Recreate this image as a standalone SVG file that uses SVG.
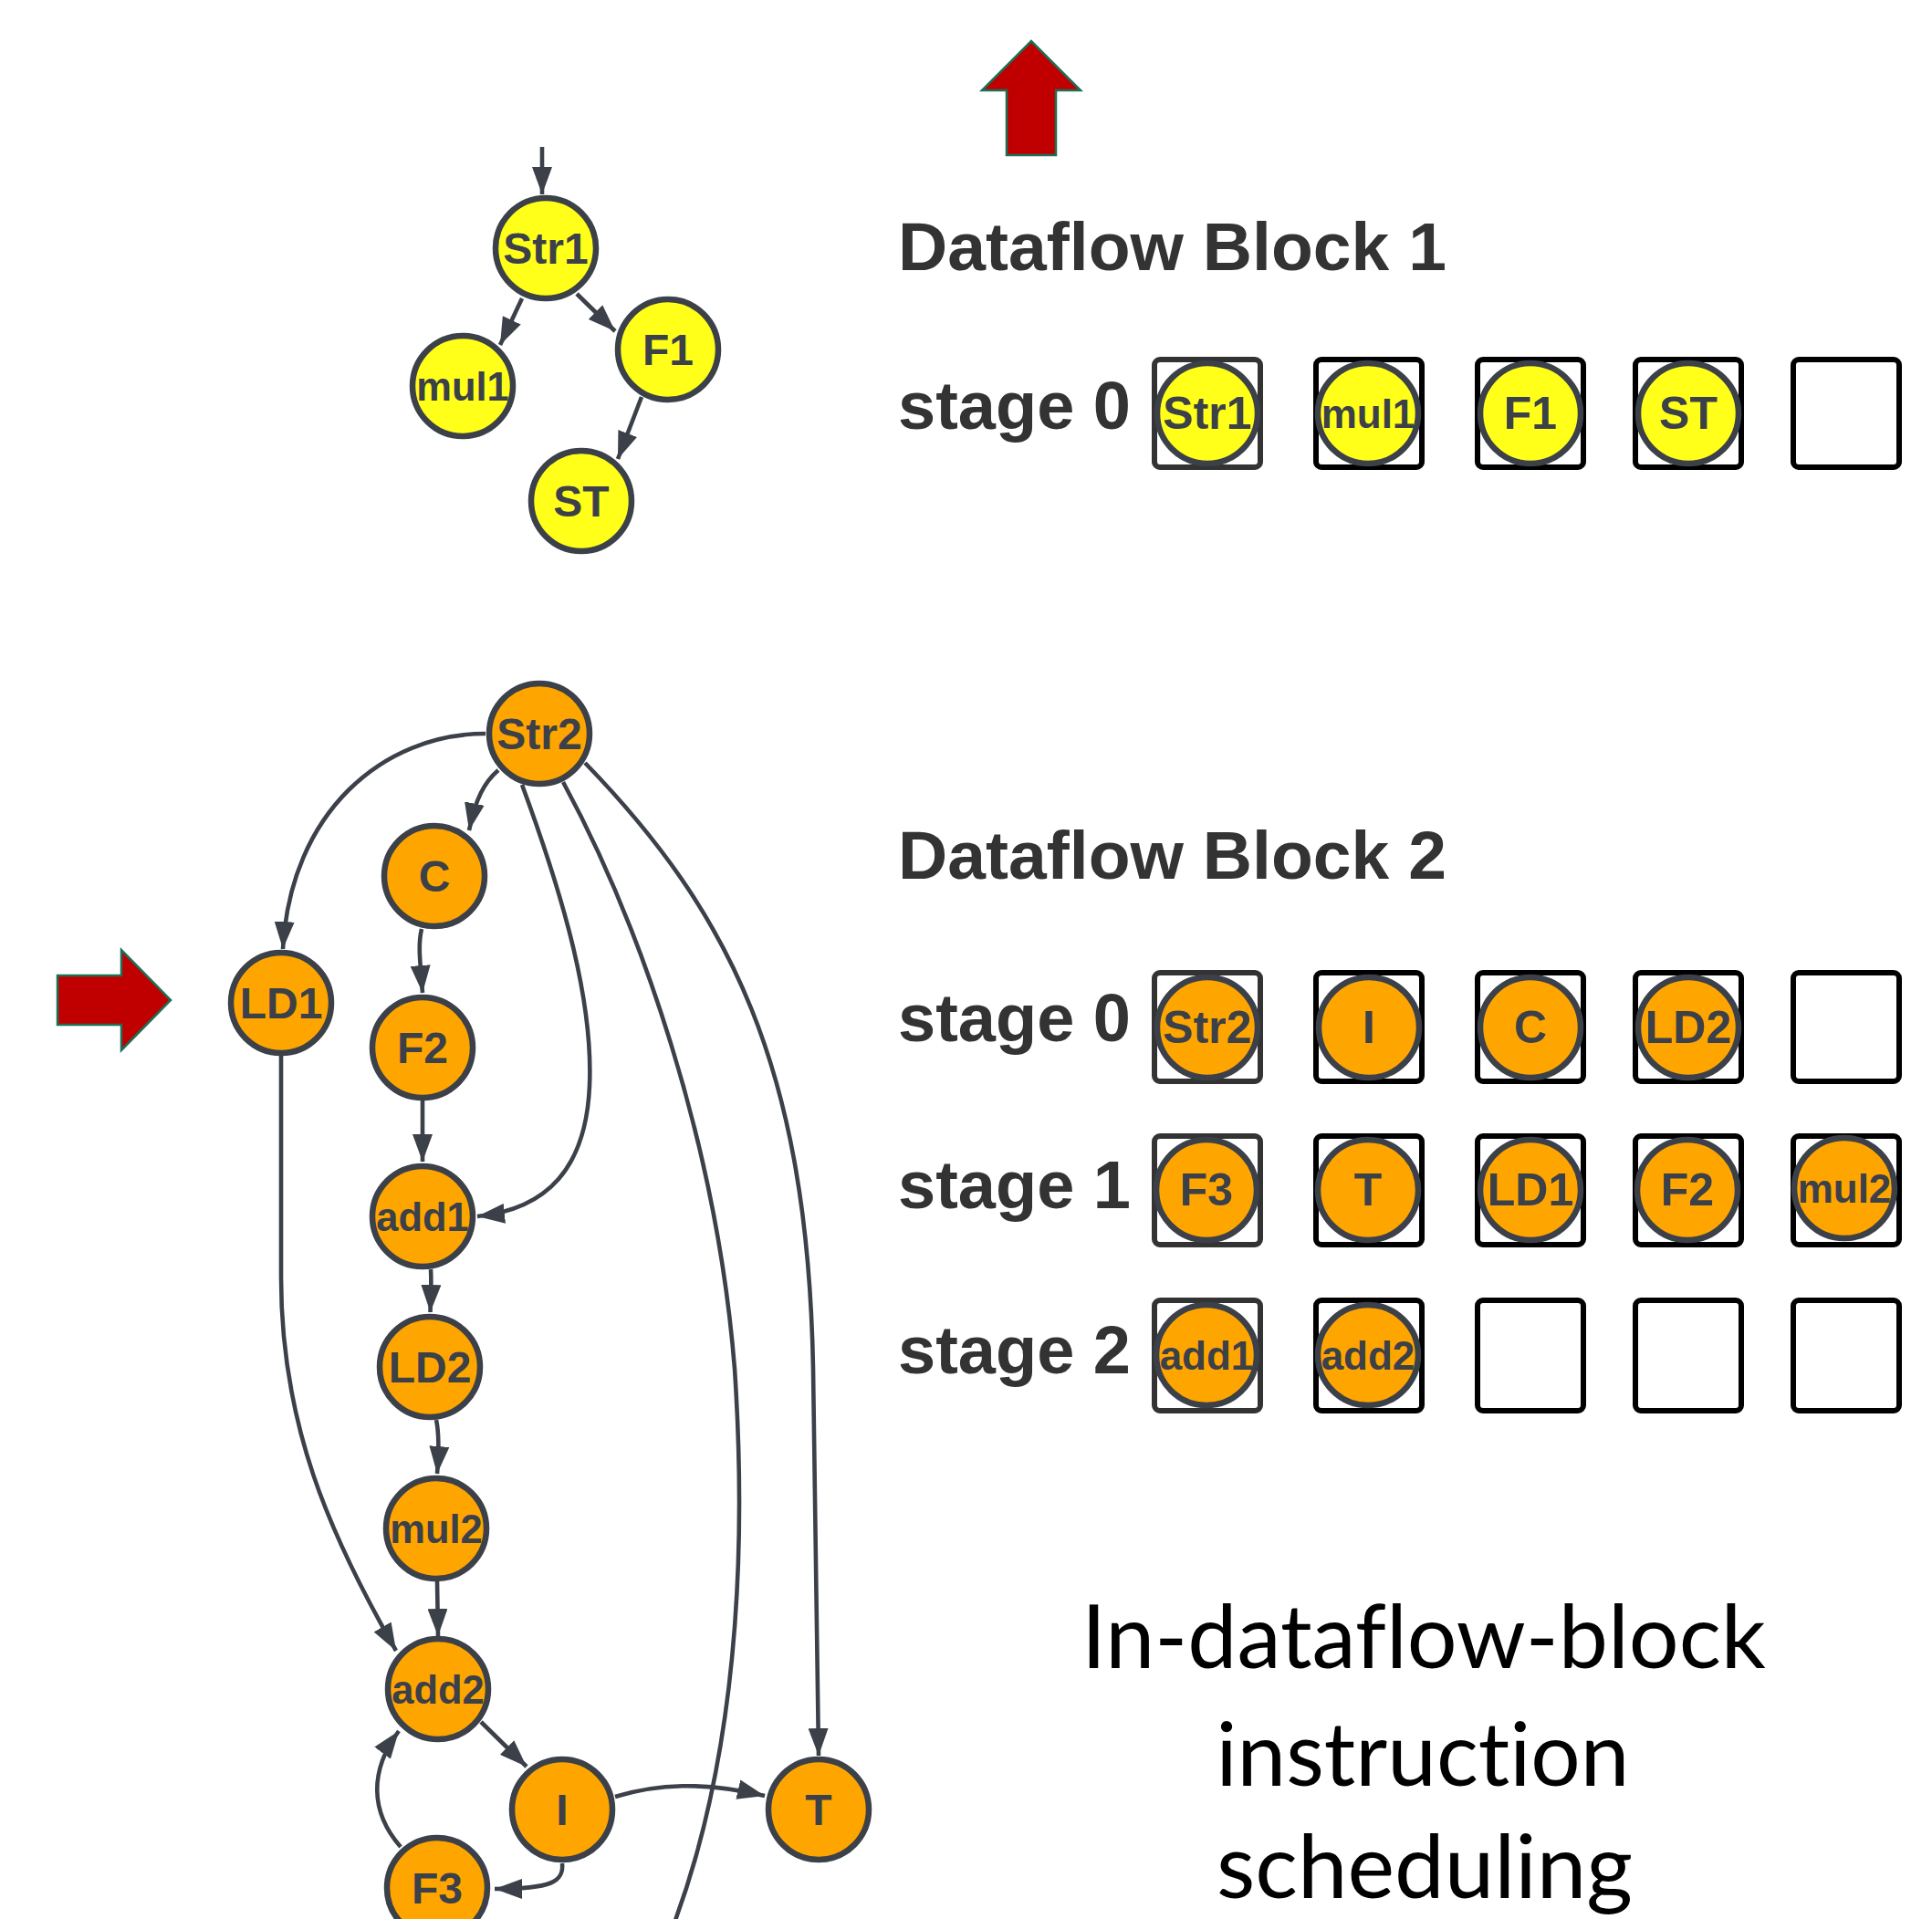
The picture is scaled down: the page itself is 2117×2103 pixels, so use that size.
<svg xmlns="http://www.w3.org/2000/svg" width="2117" height="2103" viewBox="0 0 2117 2103">
<style>
.bg{fill:#ffffff}
.ny{fill:#FFFF1A;stroke:#3b4049;stroke-width:6.5}
.no{fill:#FFA500;stroke:#3b4049;stroke-width:6.5}
.nt{font-family:"Liberation Sans",Arial,sans-serif;font-weight:bold;fill:#3b4049;text-anchor:middle}
.big{font-size:48px}
.sm{font-size:43.5px}
.bt{font-size:50px}
.bts{font-size:44px}
.hd{font-family:"Liberation Sans",Arial,sans-serif;font-weight:bold;font-size:74px;fill:#333333}
.box{fill:none;stroke:#000000;stroke-width:6}
.box1{fill:none;stroke:#333333;stroke-width:6}
.e{fill:none;stroke:#3b4049;stroke-width:4.6;marker-end:url(#ah)}
.red{fill:#C00000;stroke:#1d6f56;stroke-width:2.5}
.cap{font-family:Lato,"Open Sans",sans-serif;font-size:96px;fill:#000000;text-anchor:middle;font-variant-ligatures:none}
</style>
<defs>
<marker id="ah" viewBox="0 0 30 22" refX="30" refY="11" markerWidth="30" markerHeight="22" markerUnits="userSpaceOnUse" orient="auto">
<path d="M0,0 L30,11 L0,22 z" fill="#3b4049"/>
</marker>
</defs>
<rect class="bg" x="0" y="0" width="2117" height="2103"/>

<g id="arrow-up"><polygon class="red" points="1103,170 1103,99 1076,99 1130,45 1184,99 1157,99 1157,170"/></g>
<g id="arrow-right"><polygon class="red" points="63,1069 133,1069 133,1041 187,1096 133,1151 133,1123 63,1123"/></g>

<g id="connectors">
<path class="e" d="M594,161 L594,213"/>
<path class="e" d="M572,327 L548,378"/>
<path class="e" d="M632,322 L674,363"/>
<path class="e" d="M703,435 L677,503"/>

<path class="e" d="M532,804 C420,804 318,890 310,1040"/>
<path class="e" d="M546,844 C531,857 521,875 514,910"/>
<path class="e" d="M572,860 C620,990 650,1100 646,1190 C642,1280 600,1325 523,1333"/>
<path class="e" d="M617,857 C700,1010 785,1250 805,1500 C815,1650 818,1900 736,2115" style="marker-end:none"/>
<path class="e" d="M641,836 C800,1000 885,1170 891,1500 L897,1924"/>
<path class="e" d="M462,1018 C458,1035 460,1050 463,1088"/>
<path class="e" d="M463,1206 L463,1273"/>
<path class="e" d="M472,1391 C473,1405 472,1420 471.5,1438"/>
<path class="e" d="M478,1556 C481,1570 481,1590 479,1615"/>
<path class="e" d="M479,1733 L480,1793"/>
<path class="e" d="M308,1157 L308,1400 C308,1560 360,1680 434,1809"/>
<path class="e" d="M527,1887 L577,1936"/>
<path class="e" d="M674,1969 C720,1955 770,1952 838,1968"/>
<path class="e" d="M616,2042 C618,2062 605,2070 542,2070"/>
<path class="e" d="M439,2024 C405,1985 405,1940 437,1897"/>
</g>

<g id="n-str1"><circle class="ny" cx="598" cy="272" r="55"/><text class="nt big" x="598" y="289">Str1</text></g>
<g id="n-mul1"><circle class="ny" cx="507" cy="423" r="55"/><text class="nt sm" x="507" y="439">mul1</text></g>
<g id="n-f1"><circle class="ny" cx="732" cy="383" r="55"/><text class="nt big" x="732" y="400">F1</text></g>
<g id="n-st"><circle class="ny" cx="637" cy="549" r="55"/><text class="nt big" x="637" y="566">ST</text></g>

<g id="n-str2"><circle class="no" cx="591" cy="804" r="55"/><text class="nt big" x="591" y="821">Str2</text></g>
<g id="n-c"><circle class="no" cx="476" cy="960" r="55"/><text class="nt big" x="476" y="977">C</text></g>
<g id="n-ld1"><circle class="no" cx="308" cy="1099" r="55"/><text class="nt big" x="308" y="1116">LD1</text></g>
<g id="n-f2"><circle class="no" cx="463" cy="1148" r="55"/><text class="nt big" x="463" y="1165">F2</text></g>
<g id="n-add1"><circle class="no" cx="463" cy="1333" r="55"/><text class="nt sm" x="463" y="1349">add1</text></g>
<g id="n-ld2"><circle class="no" cx="471" cy="1498" r="55"/><text class="nt big" x="471" y="1515">LD2</text></g>
<g id="n-mul2"><circle class="no" cx="478" cy="1675" r="55"/><text class="nt sm" x="478" y="1691">mul2</text></g>
<g id="n-add2"><circle class="no" cx="480" cy="1851" r="55"/><text class="nt sm" x="480" y="1867">add2</text></g>
<g id="n-i"><circle class="no" cx="616" cy="1983" r="55"/><text class="nt big" x="616" y="2000">I</text></g>
<g id="n-t"><circle class="no" cx="897" cy="1983" r="55"/><text class="nt big" x="897" y="2000">T</text></g>
<g id="n-f3"><circle class="no" cx="479" cy="2069" r="55"/><text class="nt big" x="479" y="2086">F3</text></g>

<g id="block1">
<text class="hd" x="984" y="296" textLength="601" lengthAdjust="spacingAndGlyphs">Dataflow Block 1</text>
<text class="hd" x="984" y="470">stage 0</text>
<g id="b1-s0-0"><rect class="box1" x="1265" y="394" width="116" height="118" rx="6"/><circle class="ny" cx="1323" cy="453" r="55"/><text class="nt bt" x="1323" y="470">Str1</text></g>
<g id="b1-s0-1"><rect class="box" x="1442" y="394" width="116" height="118" rx="6"/><circle class="ny" cx="1499" cy="453" r="55"/><text class="nt bts" x="1499" y="469">mul1</text></g>
<g id="b1-s0-2"><rect class="box" x="1619" y="394" width="116" height="118" rx="6"/><circle class="ny" cx="1677" cy="453" r="55"/><text class="nt bt" x="1677" y="470">F1</text></g>
<g id="b1-s0-3"><rect class="box" x="1792" y="394" width="116" height="118" rx="6"/><circle class="ny" cx="1850" cy="453" r="55"/><text class="nt bt" x="1850" y="470">ST</text></g>
<g id="b1-s0-4"><rect class="box" x="1965" y="394" width="116" height="118" rx="6"/></g>
</g>

<g id="block2">
<text class="hd" x="984" y="963" textLength="601" lengthAdjust="spacingAndGlyphs">Dataflow Block 2</text>
<text class="hd" x="984" y="1141">stage 0</text>
<text class="hd" x="984" y="1324">stage 1</text>
<text class="hd" x="984" y="1505">stage 2</text>
<g id="b2-s0-0"><rect class="box1" x="1265" y="1066" width="116" height="119" rx="6"/><circle class="no" cx="1323" cy="1126" r="55"/><text class="nt bt" x="1323" y="1143">Str2</text></g>
<g id="b2-s0-1"><rect class="box" x="1442" y="1066" width="116" height="119" rx="6"/><circle class="no" cx="1500" cy="1126" r="55"/><text class="nt bt" x="1500" y="1143">I</text></g>
<g id="b2-s0-2"><rect class="box" x="1619" y="1066" width="116" height="119" rx="6"/><circle class="no" cx="1677" cy="1126" r="55"/><text class="nt bt" x="1677" y="1143">C</text></g>
<g id="b2-s0-3"><rect class="box" x="1792" y="1066" width="116" height="119" rx="6"/><circle class="no" cx="1850" cy="1126" r="55"/><text class="nt bt" x="1850" y="1143">LD2</text></g>
<g id="b2-s0-4"><rect class="box" x="1965" y="1066" width="116" height="119" rx="6"/></g>

<g id="b2-s1-0"><rect class="box1" x="1265" y="1245" width="116" height="119" rx="6"/><circle class="no" cx="1322" cy="1304" r="55"/><text class="nt bt" x="1322" y="1321">F3</text></g>
<g id="b2-s1-1"><rect class="box" x="1442" y="1245" width="116" height="119" rx="6"/><circle class="no" cx="1499" cy="1304" r="55"/><text class="nt bt" x="1499" y="1321">T</text></g>
<g id="b2-s1-2"><rect class="box" x="1619" y="1245" width="116" height="119" rx="6"/><circle class="no" cx="1677" cy="1304" r="55"/><text class="nt bt" x="1677" y="1321">LD1</text></g>
<g id="b2-s1-3"><rect class="box" x="1792" y="1245" width="116" height="119" rx="6"/><circle class="no" cx="1849" cy="1304" r="55"/><text class="nt bt" x="1849" y="1321">F2</text></g>
<g id="b2-s1-4"><rect class="box" x="1965" y="1245" width="116" height="119" rx="6"/><circle class="no" cx="2021" cy="1302" r="55"/><text class="nt bts" x="2021" y="1318">mul2</text></g>

<g id="b2-s2-0"><rect class="box1" x="1265" y="1425" width="116" height="121" rx="6"/><circle class="no" cx="1322" cy="1485" r="55"/><text class="nt bts" x="1322" y="1501">add1</text></g>
<g id="b2-s2-1"><rect class="box" x="1442" y="1425" width="116" height="121" rx="6"/><circle class="no" cx="1499" cy="1485" r="55"/><text class="nt bts" x="1499" y="1501">add2</text></g>
<g id="b2-s2-2"><rect class="box" x="1619" y="1425" width="116" height="121" rx="6"/></g>
<g id="b2-s2-3"><rect class="box" x="1792" y="1425" width="116" height="121" rx="6"/></g>
<g id="b2-s2-4"><rect class="box" x="1965" y="1425" width="116" height="121" rx="6"/></g>
</g>

<g id="caption">
<text class="cap" x="1560" y="1828" textLength="750" lengthAdjust="spacingAndGlyphs">In-dataflow-block</text>
<text class="cap" x="1559" y="1957" textLength="453" lengthAdjust="spacingAndGlyphs">instruction</text>
<text class="cap" x="1561" y="2080" textLength="456" lengthAdjust="spacingAndGlyphs">scheduling</text>
</g>
</svg>
